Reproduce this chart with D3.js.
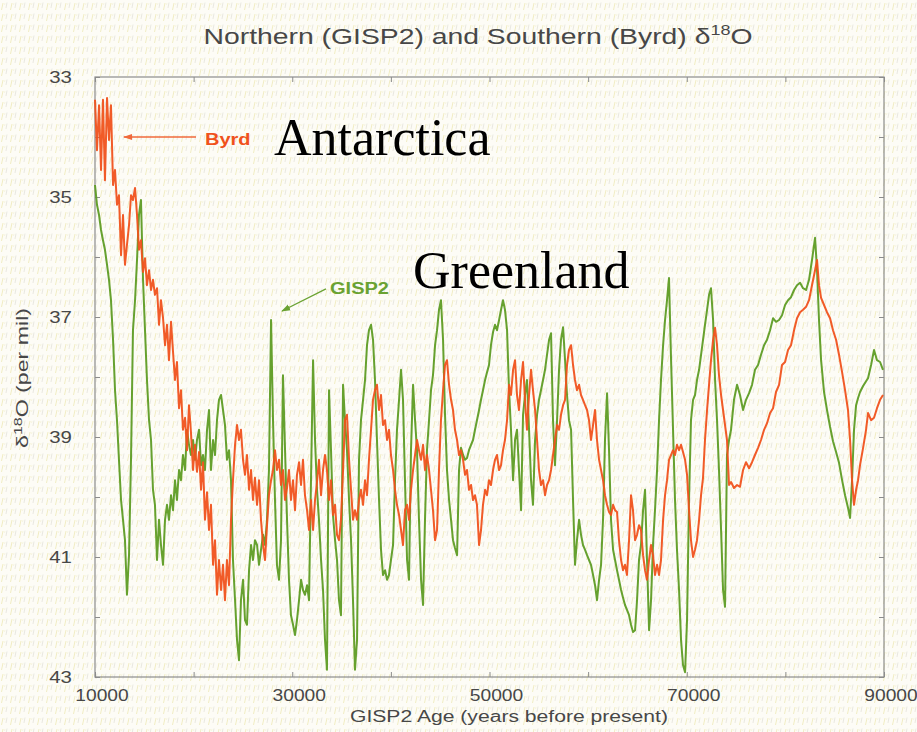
<!DOCTYPE html>
<html>
<head>
<meta charset="utf-8">
<script src="https://cdn.jsdelivr.net/npm/d3@7"></script>
<style>
  html, body { margin: 0; padding: 0; background: #fdfcf4; }
  svg { display: block; }
</style>
</head>
<body>
<svg id="chart" width="917" height="732"></svg>
<script>
// GISP2 age (years before present) shared by both records
const ageBP = [
  10000,10200,10410,10610,10810,11010,11220,11420,11620,11830,
  12030,12230,12430,12640,12840,13040,13240,13450,13650,13850,
  14060,14260,14460,14660,14870,15070,15270,15480,15680,15880,
  16080,16290,16490,16690,16900,17100,17300,17500,17710,17910,
  18110,18310,18520,18720,18920,19130,19330,19530,19730,19940,
  20140,20340,20550,20750,20950,21150,21360,21560,21760,21970,
  22170,22370,22570,22780,22980,23180,23380,23590,23790,23990,
  24200,24400,24600,24800,25010,25210,25410,25620,25820,26020,
  26220,26430,26630,26830,27040,27240,27440,27640,27850,28050,
  28250,28450,28660,28860,29060,29270,29470,29670,29870,30080,
  30280,30480,30690,30890,31090,31290,31500,31700,31900,32110,
  32310,32510,32710,32920,33120,33320,33520,33730,33930,34130,
  34340,34540,34740,34940,35150,35350,35550,35760,35960,36160,
  36360,36570,36770,36970,37180,37380,37580,37780,37990,38190,
  38390,38590,38800,39000,39200,39410,39610,39810,40010,40220,
  40420,40620,40830,41030,41230,41430,41640,41840,42040,42250,
  42450,42650,42850,43060,43260,43460,43660,43870,44070,44270,
  44480,44680,44880,45080,45290,45490,45690,45900,46100,46300,
  46500,46710,46910,47110,47320,47520,47720,47920,48130,48330,
  48530,48730,48940,49140,49340,49550,49750,49950,50150,50360,
  50560,50760,50970,51170,51370,51570,51780,51980,52180,52390,
  52590,52790,52990,53200,53400,53600,53800,54010,54210,54410,
  54620,54820,55020,55220,55430,55630,55830,56040,56240,56440,
  56640,56850,57050,57250,57460,57660,57860,58060,58270,58470,
  58670,58870,59080,59280,59480,59690,59890,60090,60290,60500,
  60700,60900,61110,61310,61510,61710,61920,62120,62320,62530,
  62730,62930,63130,63340,63540,63740,63940,64150,64350,64550,
  64760,64960,65160,65360,65570,65770,65970,66180,66380,66580,
  66780,66990,67190,67390,67600,67800,68000,68200,68410,68610,
  68810,69010,69220,69420,69620,69830,70030,70230,70430,70640,
  70840,71040,71250,71450,71650,71850,72060,72260,72460,72670,
  72870,73070,73270,73480,73680,73880,74080,74290,
  74490,74790,75100,75400,75710,76010,76320,76620,76920,77230,
  77530,77840,78140,78450,78750,79050,79360,79660,79970,80270,
  80570,80880,81180,81490,81790,82100,82400,82700,83010,83210,
  83410,83620,83920,84220,84530,84830,85140,85440,85750,86050,
  86350,86560,86760,86960,87170,87370,87570,87880,88180,88380,
  88690,88990,89290,89600,89900
];

// Greenland (GISP2) delta-18O, per mil (plotted as magnitude)
const gisp2 = [
  34.80,35.13,35.30,35.55,35.72,35.88,36.13,36.38,36.72,37.38,
  38.22,38.72,39.38,40.05,40.38,40.72,41.63,40.97,39.38,37.22,
  36.72,36.05,35.30,35.05,36.38,37.22,38.05,38.72,39.05,39.88,
  40.13,41.05,40.38,40.80,41.13,40.38,40.13,40.38,39.97,40.22,
  39.72,40.05,39.55,39.72,39.30,39.55,38.88,39.13,39.30,39.05,
  39.38,39.05,38.88,39.47,39.30,39.55,38.88,38.55,39.55,39.05,
  39.30,38.72,38.38,38.30,38.55,38.80,39.38,39.22,39.72,41.05,
  41.72,42.38,42.72,41.72,41.38,42.05,42.13,41.22,40.80,41.05,
  40.72,40.80,41.13,40.88,40.63,40.80,40.38,39.55,37.05,38.72,
  40.05,41.13,41.38,40.72,37.97,39.22,40.38,41.38,41.97,42.13,
  42.30,42.05,41.72,41.38,41.55,41.63,41.47,41.72,39.72,37.72,
  39.05,39.88,40.38,41.05,41.55,42.38,42.88,38.22,39.22,40.30,
  40.72,41.05,41.72,41.97,38.13,38.72,39.22,40.05,40.72,41.72,
  42.88,42.38,39.38,38.72,38.38,38.05,37.47,37.22,37.13,37.38,
  38.05,39.05,40.05,40.88,41.30,41.22,41.38,41.30,41.05,40.80,
  39.72,38.88,38.38,37.88,38.38,39.72,41.05,41.38,39.22,38.13,
  38.72,39.22,40.38,41.38,41.80,40.38,39.22,38.72,38.22,37.97,
  37.47,37.22,36.88,36.72,37.38,38.63,39.55,40.05,40.38,40.72,
  40.85,40.97,39.55,39.18,39.30,39.38,39.35,39.22,39.13,39.05,
  38.88,38.72,38.55,38.38,38.22,38.05,37.92,37.80,37.47,37.25,
  37.13,37.22,37.05,36.88,36.72,36.88,37.22,38.22,38.88,39.72,
  39.05,38.88,39.55,40.22,38.63,38.30,38.05,38.88,39.72,40.13,
  39.05,38.63,38.38,38.22,38.05,37.88,37.63,37.38,37.27,38.72,
  39.47,38.72,37.88,37.38,37.17,37.72,38.30,38.72,38.88,40.05,
  41.13,40.72,40.38,40.63,40.80,40.88,40.97,41.05,41.13,41.30,
  41.47,41.72,41.38,41.13,40.38,39.05,38.27,39.22,40.38,40.88,
  41.05,41.22,41.38,41.55,41.68,41.80,41.88,41.97,42.13,42.25,
  42.22,41.72,41.05,40.80,40.22,39.88,41.05,42.22,41.72,40.80,
  40.22,39.55,38.72,38.05,37.47,37.05,36.72,36.35,37.72,38.88,
  40.05,40.88,41.55,42.38,42.80,42.92,42.05,40.05,38.72,38.38,
  38.30,38.05,37.88,37.63,37.38,37.13,36.88,36.63,36.52,37.05,
  38.05,38.72,39.55,40.55,41.55,41.83,39.30,39.05,
  38.88,38.38,38.13,38.30,38.55,38.38,38.27,38.13,37.88,37.80,
  37.63,37.47,37.38,37.22,37.02,37.08,37.05,36.97,36.80,36.72,
  36.67,36.55,36.47,36.43,36.52,36.55,36.38,36.05,35.68,36.22,
  37.05,37.72,38.25,38.55,38.83,39.07,39.25,39.43,39.72,39.97,
  40.18,40.35,39.72,38.88,38.47,38.35,38.25,38.15,38.07,38.02,
  37.80,37.55,37.72,37.75,37.88
];

// Antarctic (Byrd) delta-18O on the GISP2 age scale, per mil
const byrd = [
  33.38,34.22,33.47,34.55,33.38,34.72,33.35,34.05,33.47,34.80,
  34.55,35.13,34.97,35.97,35.30,36.13,35.80,35.47,34.97,35.05,
  34.85,35.30,35.88,35.72,36.25,36.02,36.47,36.22,36.55,36.38,
  36.63,36.52,37.13,36.72,37.02,37.47,37.13,37.72,37.08,37.58,
  38.05,37.75,38.52,38.22,38.88,38.68,39.22,38.47,38.92,39.55,
  39.13,39.58,39.25,39.88,39.42,40.38,39.92,40.55,40.13,41.13,
  40.72,41.63,41.05,41.55,41.13,41.72,41.05,41.47,40.38,39.72,
  39.13,38.80,39.05,38.88,39.38,39.63,39.30,39.88,39.55,40.05,
  39.68,40.13,39.72,40.38,40.80,41.05,40.47,39.97,39.72,39.55,
  39.22,39.55,39.38,39.80,39.55,40.05,39.85,39.55,40.05,39.72,
  40.22,39.63,39.42,39.80,39.38,39.97,40.22,40.55,40.05,40.55,
  40.05,39.75,39.38,39.97,39.55,39.30,39.55,40.05,39.72,40.30,
  40.13,40.63,40.72,40.38,39.55,38.72,38.63,39.38,39.88,40.38,
  40.22,40.38,40.05,39.88,40.13,39.72,39.97,39.38,38.88,38.38,
  38.22,38.13,38.55,38.30,38.80,38.72,39.05,38.88,39.30,39.55,
  39.88,40.13,40.30,40.55,40.80,40.22,40.13,40.38,39.88,39.55,
  39.30,39.05,39.22,39.38,39.13,39.55,39.30,39.55,39.88,40.22,
  40.72,40.55,39.55,38.72,38.22,37.80,37.72,38.13,38.38,38.55,
  38.88,39.05,39.30,39.22,39.38,39.63,39.55,39.88,39.80,40.05,
  39.97,40.13,40.80,40.55,40.13,39.88,39.97,39.72,39.80,39.55,
  39.38,39.30,39.55,39.47,39.22,39.05,38.72,38.13,38.30,37.88,
  37.72,38.30,38.55,38.05,37.75,38.38,38.88,38.30,37.88,38.22,
  38.55,39.05,39.55,39.80,39.72,39.97,39.80,39.72,39.55,39.30,
  39.05,38.80,38.88,38.63,38.47,38.38,37.80,37.55,37.47,37.80,
  38.05,38.22,38.13,38.30,38.38,38.47,38.55,38.72,39.05,38.80,
  38.55,39.05,39.38,39.55,39.72,39.97,40.13,40.25,40.30,40.13,
  40.22,40.25,40.72,41.05,41.22,41.13,41.30,40.72,39.97,40.22,
  40.72,40.63,40.47,40.55,40.97,41.22,41.38,41.05,40.80,40.97,
  41.30,41.13,41.30,41.05,40.38,39.97,39.72,39.38,39.30,39.22,
  39.30,39.13,39.22,39.13,39.25,39.38,39.63,40.22,40.72,41.00,
  40.88,40.72,40.38,39.97,39.68,39.05,38.55,38.13,37.72,37.38,
  37.18,37.47,37.97,38.30,38.55,38.80,39.05,39.80,
  39.75,39.85,39.80,39.83,39.55,39.42,39.52,39.42,39.30,39.18,
  39.05,38.88,38.77,38.60,38.52,38.25,38.13,37.80,37.75,37.55,
  37.47,37.22,37.02,36.92,36.88,36.83,36.72,36.47,36.22,36.05,
  36.47,36.68,36.80,36.92,37.02,37.22,37.38,37.63,37.92,38.22,
  38.55,39.05,39.72,40.13,39.88,39.72,39.47,39.18,38.88,38.60,
  38.72,38.68,38.52,38.38,38.30
];

const xTickLabels = [10000, 30000, 50000, 70000, 90000];
const yTickLabels = [33, 35, 37, 39, 41, 43];

// Callout placements, in data units
const byrdCallout = { tip: [12940, 34.0], tail: [20240, 34.0], text: [21150, 34.13] };
const gispCallout = { tip: [28960, 36.9], tail: [33420, 36.53], text: [33830, 36.62] };
const regionLabels = [
  { name: "Antarctica", at: [28150, 34.3] },
  { name: "Greenland", at: [42250, 36.52] }
];

const W = 917, H = 732;
const svg = d3.select("#chart");
const sans = "'Liberation Sans', Arial, Helvetica, sans-serif";
const inkGrey = "#474747";
const byrdColor = "#f0521c";
const gispColor = "#5e9c24";

const x = d3.scaleLinear().domain([10000, 90000]).range([95, 884]);
const y = d3.scaleLinear().domain([33, 43]).range([77, 677]);

// speckled paper background
const defs = svg.append("defs");
const pat = defs.append("pattern").attr("id", "paper")
  .attr("width", 9).attr("height", 11).attr("patternUnits", "userSpaceOnUse");
pat.append("rect").attr("width", 9).attr("height", 11).attr("fill", "#fdfcf6");
pat.append("path").attr("d", "M1.5,10 L3,3").attr("stroke", "#eee9b6").attr("stroke-width", 0.8);
pat.append("path").attr("d", "M6,8 L7,2.5").attr("stroke", "#e0ded6").attr("stroke-width", 0.7);
pat.append("path").attr("d", "M4.5,5 L5,3").attr("stroke", "#f1eed0").attr("stroke-width", 0.6);
svg.append("rect").attr("width", W).attr("height", H).attr("fill", "url(#paper)");

["byrd", "gisp"].forEach(k => {
  defs.append("marker").attr("id", "head-" + k)
    .attr("viewBox", "0 0 10 10").attr("refX", 9).attr("refY", 5)
    .attr("markerWidth", 7).attr("markerHeight", 7).attr("orient", "auto")
    .append("path").attr("d", "M0,1.5 L10,5 L0,8.5 Z")
    .attr("fill", k === "byrd" ? "#f06a3c" : "#6aa232");
});

// widen glyphs horizontally, as in the printed figure
function widen(sel, factor) {
  sel.each(function () {
    const w = this.getComputedTextLength();
    d3.select(this).attr("textLength", w * factor).attr("lengthAdjust", "spacingAndGlyphs");
  });
}

// frame
svg.append("rect")
  .attr("x", x(10000)).attr("y", y(33))
  .attr("width", x(90000) - x(10000)).attr("height", y(43) - y(33))
  .attr("fill", "none").attr("stroke", "#8c8c8c").attr("stroke-width", 1.2);

// inward ticks on all four sides
const minorX = d3.range(10000, 90001, 10000);
const minorY = d3.range(33, 43.01, 1);
const tickStyle = g => g.call(s => s.select(".domain").remove())
  .call(s => s.selectAll(".tick line").attr("stroke", "#8c8c8c"))
  .call(s => s.selectAll(".tick text").remove());
svg.append("g").attr("transform", `translate(0,${y(43)})`)
  .call(d3.axisBottom(x).tickValues(minorX).tickSize(-5)).call(tickStyle);
svg.append("g").attr("transform", `translate(0,${y(33)})`)
  .call(d3.axisTop(x).tickValues(minorX).tickSize(-5)).call(tickStyle);
svg.append("g").attr("transform", `translate(${x(10000)},0)`)
  .call(d3.axisLeft(y).tickValues(minorY).tickSize(-5)).call(tickStyle);
svg.append("g").attr("transform", `translate(${x(90000)},0)`)
  .call(d3.axisRight(y).tickValues(minorY).tickSize(-5)).call(tickStyle);

// tick labels
const yLab = svg.append("g").selectAll("text").data(yTickLabels).join("text")
  .attr("x", x(10000) - 23).attr("y", d => y(d)).attr("dy", "0.36em")
  .attr("text-anchor", "end").attr("font-family", sans).attr("font-size", 17)
  .attr("fill", inkGrey).text(d => d);
widen(yLab, 1.2);

const xLab = svg.append("g").selectAll("text").data(xTickLabels).join("text")
  .attr("x", d => x(d) + 7).attr("y", y(43) + 24)
  .attr("text-anchor", "middle").attr("font-family", sans).attr("font-size", 16)
  .attr("fill", inkGrey).text(d => d);
widen(xLab, 1.2);

// series
const line = d3.line().x((d, i) => x(ageBP[i])).y(d => y(d)).curve(d3.curveLinear);
svg.append("path").datum(gisp2).attr("d", line)
  .attr("fill", "none").attr("stroke", gispColor).attr("stroke-width", 2)
  .attr("stroke-linejoin", "round").attr("opacity", 0.95);
svg.append("path").datum(byrd).attr("d", line)
  .attr("fill", "none").attr("stroke", byrdColor).attr("stroke-width", 2)
  .attr("stroke-linejoin", "round").attr("opacity", 0.95);

// title
const title = svg.append("text").attr("x", 478).attr("y", 44)
  .attr("text-anchor", "middle").attr("font-family", sans).attr("font-size", 22)
  .attr("fill", inkGrey);
title.append("tspan").text("Northern (GISP2) and Southern (Byrd) δ");
title.append("tspan").attr("dy", -9).attr("font-size", 14).text("18");
title.append("tspan").attr("dy", 9).text("O");
title.attr("textLength", 549).attr("lengthAdjust", "spacingAndGlyphs");

// axis titles
svg.append("text").attr("x", 509).attr("y", 722)
  .attr("text-anchor", "middle").attr("font-family", sans).attr("font-size", 16)
  .attr("fill", inkGrey).attr("textLength", 318).attr("lengthAdjust", "spacingAndGlyphs")
  .text("GISP2 Age (years before present)");

const yTitle = svg.append("text")
  .attr("transform", "translate(28,378) rotate(-90)")
  .attr("text-anchor", "middle").attr("font-family", sans).attr("font-size", 16)
  .attr("fill", inkGrey);
yTitle.append("tspan").text("δ");
yTitle.append("tspan").attr("dy", -6).attr("font-size", 11).text("18");
yTitle.append("tspan").attr("dy", 6).text("O (per mil)");
yTitle.attr("textLength", 140).attr("lengthAdjust", "spacingAndGlyphs");

// callouts
svg.append("line")
  .attr("x1", x(byrdCallout.tail[0])).attr("y1", y(byrdCallout.tail[1]))
  .attr("x2", x(byrdCallout.tip[0])).attr("y2", y(byrdCallout.tip[1]))
  .attr("stroke", "#f06a3c").attr("stroke-width", 1.3).attr("marker-end", "url(#head-byrd)");
const byrdText = svg.append("text")
  .attr("x", x(byrdCallout.text[0])).attr("y", y(byrdCallout.text[1]))
  .attr("font-family", sans).attr("font-weight", "bold").attr("font-size", 16)
  .attr("fill", byrdColor).text("Byrd");
widen(byrdText, 1.25);

svg.append("line")
  .attr("x1", x(gispCallout.tail[0])).attr("y1", y(gispCallout.tail[1]))
  .attr("x2", x(gispCallout.tip[0])).attr("y2", y(gispCallout.tip[1]))
  .attr("stroke", "#6aa232").attr("stroke-width", 1.3).attr("marker-end", "url(#head-gisp)");
const gispText = svg.append("text")
  .attr("x", x(gispCallout.text[0])).attr("y", y(gispCallout.text[1]))
  .attr("font-family", sans).attr("font-weight", "bold").attr("font-size", 16)
  .attr("fill", "#6aa232").text("GISP2");
widen(gispText, 1.25);

svg.append("g").selectAll("text").data(regionLabels).join("text")
  .attr("x", d => x(d.at[0])).attr("y", d => y(d.at[1]))
  .attr("font-family", "'Liberation Serif', 'Times New Roman', serif")
  .attr("font-size", 52).attr("fill", "#000").text(d => d.name);
</script>
</body>
</html>
